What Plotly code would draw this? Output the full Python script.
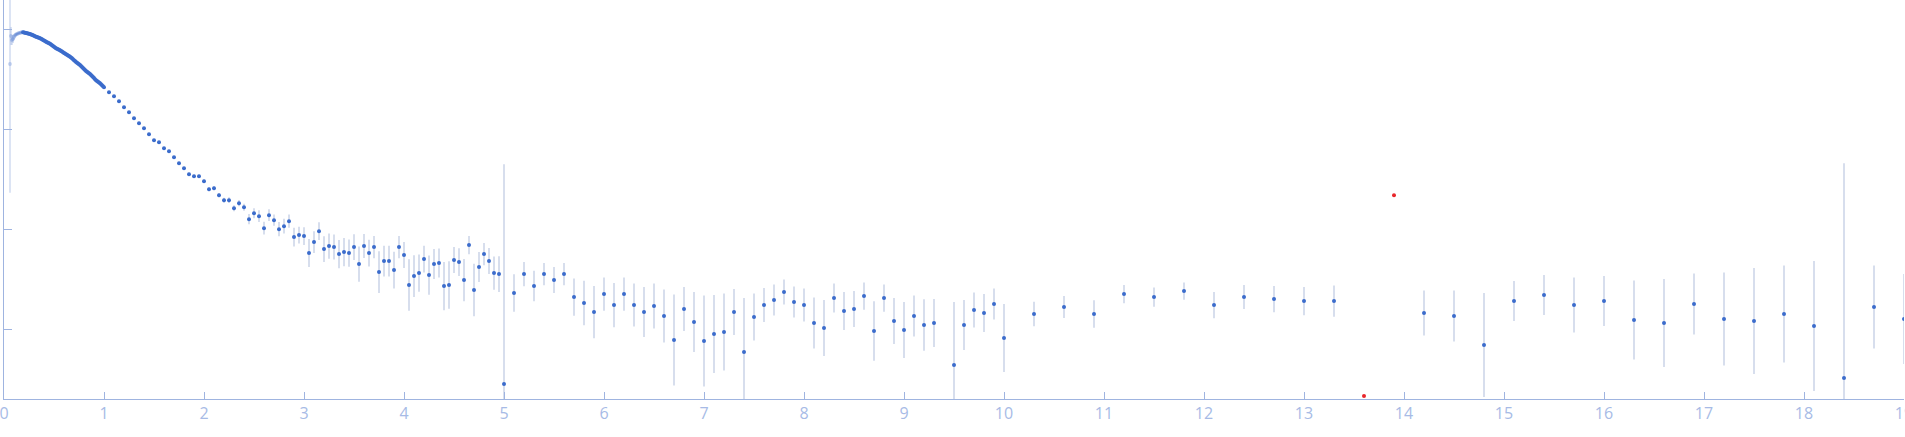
import plotly.graph_objects as go

# ---- data: log10 intensity vs q (arbitrary intensity units) ----
# low-q points outside the usable range (drawn faded)
q_low = [0.06, 0.07, 0.08, 0.09, 0.10, 0.11, 0.12, 0.13, 0.14, 0.15, 0.16, 0.17, 0.18]
logI_low = [-0.34, -0.06, -0.10, -0.09, -0.07, -0.055, -0.045, -0.04, -0.035, -0.03, -0.03, -0.025, -0.023]
err_low = [1.29, 0.09, 0.05, 0.04, 0.03, 0.02, 0.015, 0.01, 0.008, 0.006, 0.005, 0.005, 0.005]

# densely sampled Guinier region
q_dense = [round(0.19 + 0.01 * i, 2) for i in range(81)]
logI_dense = [
    -0.023, -0.025, -0.028, -0.030, -0.033, -0.035, -0.038, -0.041, -0.045, -0.049,
    -0.053, -0.058, -0.062, -0.067, -0.071, -0.075, -0.079, -0.083, -0.089, -0.094,
    -0.100, -0.106, -0.111, -0.117, -0.122, -0.127, -0.132, -0.137, -0.145, -0.152,
    -0.160, -0.168, -0.175, -0.183, -0.188, -0.193, -0.198, -0.203, -0.210, -0.216,
    -0.223, -0.230, -0.236, -0.243, -0.249, -0.255, -0.261, -0.267, -0.276, -0.284,
    -0.293, -0.302, -0.311, -0.320, -0.328, -0.335, -0.343, -0.350, -0.360, -0.370,
    -0.380, -0.390, -0.400, -0.410, -0.418, -0.425, -0.433, -0.440, -0.450, -0.460,
    -0.470, -0.481, -0.492, -0.503, -0.511, -0.518, -0.526, -0.533, -0.543, -0.553,
    -0.563,
]
err_dense = [0.004] * 81

# binned points, 1.00 .. 4.95 (step 0.05)
q_mid = [round(1.00 + 0.05 * i, 2) for i in range(80)]
logI_mid = [
    -0.573, -0.623, -0.663, -0.713, -0.773, -0.823, -0.883, -0.933, -0.983, -1.043,
    -1.103, -1.123, -1.183, -1.213, -1.273, -1.333, -1.383, -1.443, -1.463, -1.463,
    -1.513, -1.593, -1.583, -1.653, -1.703, -1.703, -1.783, -1.733, -1.773, -1.893,
    -1.833, -1.863, -1.983, -1.853, -1.903, -1.993, -1.963, -1.913, -2.073, -2.053,
    -2.063, -2.233, -2.123, -2.013, -2.193, -2.163, -2.173, -2.243, -2.223, -2.233,
    -2.173, -2.343, -2.163, -2.233, -2.173, -2.423, -2.313, -2.313, -2.403, -2.173,
    -2.253, -2.553, -2.463, -2.433, -2.293, -2.453, -2.343, -2.333, -2.563, -2.553,
    -2.303, -2.323, -2.503, -2.153, -2.603, -2.373, -2.243, -2.313, -2.433, -2.443,
]
err_mid = [
    0.005, 0.005, 0.005, 0.005, 0.005, 0.005, 0.005, 0.005, 0.006, 0.006,
    0.007, 0.008, 0.009, 0.010, 0.010, 0.011, 0.012, 0.013, 0.014, 0.015,
    0.016, 0.020, 0.021, 0.022, 0.025, 0.028, 0.030, 0.032, 0.035, 0.052,
    0.050, 0.058, 0.065, 0.058, 0.057, 0.072, 0.073, 0.067, 0.095, 0.085,
    0.088, 0.140, 0.108, 0.090, 0.128, 0.127, 0.125, 0.142, 0.142, 0.137,
    0.128, 0.177, 0.120, 0.133, 0.112, 0.208, 0.153, 0.153, 0.183, 0.112,
    0.130, 0.258, 0.208, 0.187, 0.133, 0.197, 0.150, 0.145, 0.242, 0.238,
    0.130, 0.138, 0.212, 0.092, 0.263, 0.150, 0.112, 0.130, 0.167, 0.178,
]

# binned points, 5.0 .. 19.0
q_high = [5.0, 5.1, 5.2, 5.3, 5.4, 5.5, 5.6, 5.7, 5.8, 5.9,
          6.0, 6.1, 6.2, 6.3, 6.4, 6.5, 6.6, 6.7, 6.8, 6.9,
          7.0, 7.1, 7.2, 7.3, 7.4, 7.5, 7.6, 7.7, 7.8, 7.9,
          8.0, 8.1, 8.2, 8.3, 8.4, 8.5, 8.6, 8.7, 8.8, 8.9,
          9.0, 9.1, 9.2, 9.3, 9.5, 9.6, 9.7, 9.8, 9.9, 10.0,
          10.3, 10.6, 10.9, 11.2, 11.5, 11.8, 12.1, 12.4, 12.7, 13.0,
          13.3, 14.2, 14.5, 14.8, 15.1, 15.4, 15.7, 16.0, 16.3, 16.6,
          16.9, 17.2, 17.5, 17.8, 18.1, 18.4, 18.7, 19.0]
logI_high = [-3.543, -2.633, -2.443, -2.563, -2.443, -2.503, -2.443, -2.673, -2.733, -2.823,
             -2.643, -2.753, -2.643, -2.753, -2.823, -2.763, -2.863, -3.103, -2.793, -2.923,
             -3.113, -3.043, -3.023, -2.823, -3.223, -2.873, -2.753, -2.703, -2.623, -2.723,
             -2.753, -2.933, -2.983, -2.683, -2.813, -2.793, -2.663, -3.013, -2.683, -2.913,
             -3.003, -2.863, -2.953, -2.933, -3.353, -2.953, -2.803, -2.833, -2.743, -3.083,
             -2.843, -2.773, -2.843, -2.643, -2.673, -2.613, -2.753, -2.673, -2.693, -2.713,
             -2.713, -2.833, -2.863, -3.153, -2.713, -2.653, -2.753, -2.713, -2.903, -2.933,
             -2.743, -2.893, -2.913, -2.843, -2.963, -3.483, -2.773, -2.893]
err_high = [2.20, 0.188, 0.122, 0.153, 0.112, 0.130, 0.112, 0.187, 0.223, 0.262,
            0.167, 0.222, 0.167, 0.215, 0.250, 0.225, 0.265, 0.455, 0.220, 0.300,
            0.455, 0.390, 0.385, 0.230, 0.540, 0.235, 0.170, 0.155, 0.125, 0.155,
            0.165, 0.255, 0.280, 0.145, 0.190, 0.180, 0.137, 0.297, 0.137, 0.230,
            0.280, 0.205, 0.257, 0.240, 0.630, 0.250, 0.175, 0.190, 0.155, 0.340,
            0.122, 0.110, 0.137, 0.092, 0.097, 0.087, 0.132, 0.120, 0.132, 0.142,
            0.157, 0.225, 0.255, 0.520, 0.200, 0.200, 0.275, 0.250, 0.395, 0.440,
            0.305, 0.465, 0.530, 0.485, 0.650, 2.150, 0.415, 0.450]

# outlier points (shown in red)
q_out = [13.6, 13.9]
logI_out = [-3.663, -1.653]

x_ticks = list(range(0, 20))

# ---- styling ----
AXIS_COLOR = "#9fb4e0"
LABEL_COLOR = "#a7bbe6"
MARKER_COLOR = "#3b6ccc"
ERR_COLOR = "rgba(150,170,210,0.5)"
FADED = "rgba(59,108,204,0.25)"

q_main = q_dense + q_mid + q_high
logI_main = logI_dense + logI_mid + logI_high
err_main = err_dense + err_mid + err_high

fig = go.Figure()

fig.add_trace(go.Scatter(
    x=q_low, y=logI_low, mode="markers",
    marker=dict(color=FADED, size=4),
    error_y=dict(type="data", array=err_low, visible=True,
                 color="rgba(150,175,225,0.45)", thickness=1.5, width=0),
    showlegend=False, hoverinfo="x+y",
))

fig.add_trace(go.Scatter(
    x=q_main, y=logI_main, mode="markers",
    marker=dict(color=MARKER_COLOR, size=4),
    error_y=dict(type="data", array=err_main, visible=True,
                 color=ERR_COLOR, thickness=1.5, width=0),
    showlegend=False, hoverinfo="x+y",
))

fig.add_trace(go.Scatter(
    x=q_out, y=logI_out, mode="markers",
    marker=dict(color="#e8262b", size=4),
    showlegend=False, hoverinfo="x+y",
))

fig.update_layout(
    width=1905, height=437,
    margin=dict(l=4, r=1, t=0, b=38, pad=0, autoexpand=False),
    paper_bgcolor="white", plot_bgcolor="white",
    font=dict(family="Open Sans, sans-serif", size=16, color=LABEL_COLOR),
    xaxis=dict(
        range=[0, 19], tickmode="array", tickvals=x_ticks,
        ticktext=[str(t) for t in x_ticks],
        ticks="inside", ticklen=7, tickwidth=1, tickcolor=AXIS_COLOR,
        showline=True, linecolor=AXIS_COLOR, linewidth=1,
        showgrid=False, zeroline=False, automargin=False,
        ticklabeloverflow="allow",
        tickfont=dict(size=16, color=LABEL_COLOR),
    ),
    yaxis=dict(
        range=[-3.693, 0.30], tick0=0, dtick=1,
        ticks="inside", ticklen=8, tickwidth=1, tickcolor=AXIS_COLOR,
        showline=True, linecolor=AXIS_COLOR, linewidth=1,
        showgrid=False, zeroline=False, showticklabels=False,
        automargin=False,
    ),
)

fig.write_html(
    "out.html",
    config={"displayModeBar": False},
    post_script="document.body.style.margin='0';document.body.style.overflow='hidden';",
)
